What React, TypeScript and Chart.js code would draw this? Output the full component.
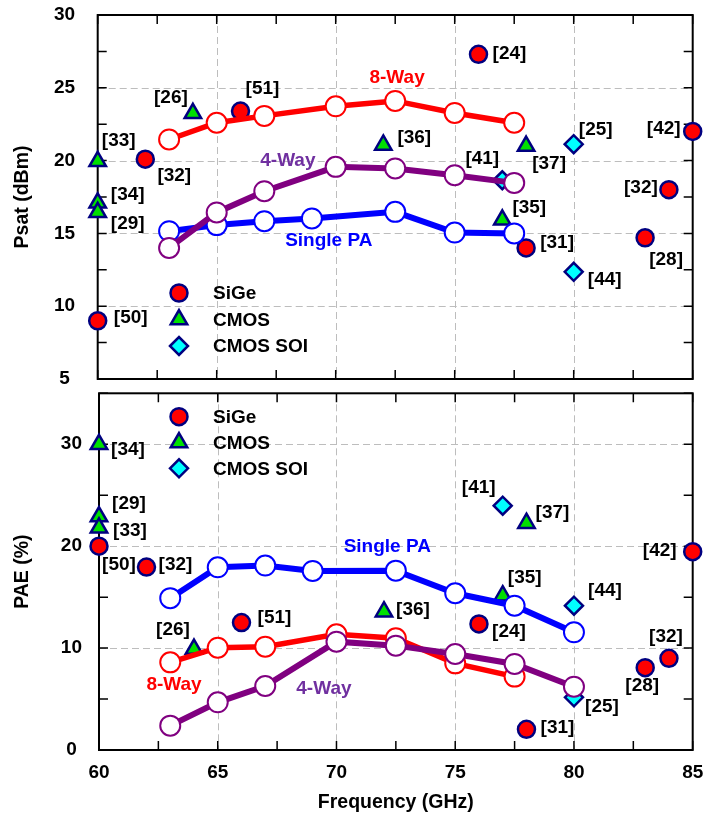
import React, { useEffect, useRef } from "react";
import { Chart, registerables } from "chart.js";

Chart.register(...registerables);

const FONT = "'Liberation Sans', Arial, Helvetica, sans-serif";
const NAVY = "#000080";
const GRID = "#BDBDBD";

// ---------- shared frequency axis ----------
const freqTicks = [60, 65, 70, 75, 80, 85];

// ---------- Psat panel ----------
const psatTicks = [5, 10, 15, 20, 25, 30];

const psatFreq8Way = [63, 65, 67, 70, 72.5, 75, 77.5];
const psat8Way = [21.45, 22.6, 23.07, 23.73, 24.1, 23.27, 22.6];

const psatFreq4Way = [63, 65, 67, 70, 72.5, 75, 77.5];
const psat4Way = [14.0, 16.44, 17.9, 19.57, 19.46, 19.0, 18.47];

const psatFreqSingle = [63, 65, 67, 69, 72.5, 75, 77.5];
const psatSingle = [15.15, 15.57, 15.84, 16.03, 16.48, 15.06, 15.0];

const psatSiGeRefs = ["[50]", "[32]", "[51]", "[24]", "[31]", "[28]", "[32]", "[42]"];
const psatSiGeFreq = [60, 62, 66, 76, 78, 83, 84, 85];
const psatSiGe = [9.0, 20.1, 23.4, 27.3, 14.0, 14.7, 18.0, 22.0];

const psatCmosRefs = ["[33]", "[34]", "[29]", "[26]", "[36]", "[35]", "[37]"];
const psatCmosFreq = [60, 60, 60, 64, 72, 77, 78];
const psatCmos = [19.95, 17.1, 16.45, 23.25, 21.08, 15.93, 21.0];

const psatSoiRefs = ["[41]", "[25]", "[44]"];
const psatSoiFreq = [77, 80, 80];
const psatSoi = [18.65, 21.13, 12.36];

// ---------- PAE panel ----------
const paeTicks = [0, 10, 20, 30];

const paeFreqSingle = [63, 65, 67, 69, 72.5, 75, 77.5, 80];
const paeSingle = [14.9, 17.93, 18.1, 17.57, 17.6, 15.38, 14.16, 11.55];

const paeFreq8Way = [63, 65, 67, 70, 72.5, 75, 77.5];
const pae8Way = [8.6, 10.04, 10.14, 11.35, 10.96, 8.5, 7.2];

const paeFreq4Way = [63, 65, 67, 70, 72.5, 75, 77.5, 80];
const pae4Way = [2.39, 4.68, 6.28, 10.63, 10.24, 9.42, 8.44, 6.21];

const paeSiGeRefs = ["[50]", "[32]", "[51]", "[24]", "[31]", "[28]", "[32]", "[42]"];
const paeSiGeFreq = [60, 62, 66, 76, 78, 83, 84, 85];
const paeSiGe = [20.0, 17.95, 12.5, 12.37, 2.03, 8.08, 9.0, 19.46];

const paeCmosRefs = ["[34]", "[29]", "[33]", "[26]", "[36]", "[35]", "[37]"];
const paeCmosFreq = [60, 60, 60, 64, 72, 77, 78];
const paeCmos = [30.0, 22.9, 21.8, 9.9, 13.57, 15.14, 22.25];

const paeSoiRefs = ["[41]", "[44]", "[25]"];
const paeSoiFreq = [77, 80, 80];
const paeSoi = [23.97, 14.16, 5.17];

// ---------- label placement (pixel offsets from each marker) ----------
const psatSiGeOffsets: [number, number][] = [[33, -3], [29, 17], [22, -22], [31, -1], [31, -5], [21, 22], [-28, -2], [-29, -3]];
const psatCmosOffsets: [number, number][] = [[21, -21], [30, -8], [30, 11], [-22, -16], [31, -7], [27, -12], [23, 18]];
const psatSoiOffsets: [number, number][] = [[-20, -21], [22, -14], [31, 8]];

const paeSiGeOffsets: [number, number][] = [[20, 19], [29, -2], [33, -5], [30, 8], [31, -2], [-3, 18], [-3, -22], [-33, -1]];
const paeCmosOffsets: [number, number][] = [[29, 6], [30, -13], [31, 3], [-21, -19], [29, -2], [22, -18], [26, -10]];
const paeSoiOffsets: [number, number][] = [[-24, -18], [31, -15], [28, 9]];

type MarkerStyle = "circle" | "triangle" | "rectRot";

interface LineSeries {
  label: string;
  color: string;
  width: number;
  freq: number[];
  values: number[];
  order: number;
}

interface PointGroup {
  label: string;
  style: MarkerStyle;
  fill: string;
  radius: number;
  freq: number[];
  values: number[];
  refs: string[];
  offsets: [number, number][];
  order: number;
}

interface Note {
  text: string;
  color: string;
  x: number;
  y: number;
}

interface PanelSpec {
  yTitle: string;
  yMin: number;
  yMax: number;
  yTicks: number[];
  yMinorStep: number;
  lines: LineSeries[];
  groups: PointGroup[];
  notes: Note[];
  legendX: number;
  legendY: number;
  legendGap: number;
  showX: boolean;
  yAxisWidth: number;
  xAxisHeight: number;
  yTickGap: number;
  padding: { top: number; right: number; bottom: number; left: number };
}

const seriesColors = {
  eight: "#FF0000",
  four: "#800080",
  fourText: "#7030A0",
  single: "#0000FF",
};

const MARKER_BORDER = 2.5;

const groupStyles = {
  sige: { style: "circle" as MarkerStyle, fill: "#FF0000", radius: 8.5 },
  cmos: { style: "triangle" as MarkerStyle, fill: "#00E000", radius: 9.5 },
  soi: { style: "rectRot" as MarkerStyle, fill: "#00FFFF", radius: 9 },
};

function markerPath(ctx: CanvasRenderingContext2D, style: MarkerStyle, x: number, y: number, r: number) {
  ctx.beginPath();
  if (style === "circle") {
    ctx.arc(x, y, r, 0, Math.PI * 2);
  } else if (style === "triangle") {
    for (let k = 0; k < 3; k++) {
      const a = (k * 2 * Math.PI) / 3;
      const px = x + Math.sin(a) * r;
      const py = y - Math.cos(a) * r;
      if (k === 0) ctx.moveTo(px, py);
      else ctx.lineTo(px, py);
    }
  } else {
    ctx.moveTo(x - r, y);
    ctx.lineTo(x, y - r);
    ctx.lineTo(x + r, y);
    ctx.lineTo(x, y + r);
  }
  ctx.closePath();
}

function framePlugin(spec: PanelSpec) {
  return {
    id: "panelFrame",
    beforeDatasetsDraw(chart: any) {
      const { ctx, chartArea: a } = chart;
      const xs = chart.scales.x;
      const ys = chart.scales.y;
      ctx.save();
      // dashed grid at interior major ticks
      ctx.strokeStyle = GRID;
      ctx.lineWidth = 1;
      ctx.setLineDash([7, 4]);
      freqTicks.forEach((v) => {
        if (v <= xs.min || v >= xs.max) return;
        const px = Math.round(xs.getPixelForValue(v)) + 0.5;
        ctx.beginPath();
        ctx.moveTo(px, a.top);
        ctx.lineTo(px, a.bottom);
        ctx.stroke();
      });
      spec.yTicks.forEach((v) => {
        if (v <= ys.min || v >= ys.max) return;
        const py = Math.round(ys.getPixelForValue(v)) + 0.5;
        ctx.beginPath();
        ctx.moveTo(a.left, py);
        ctx.lineTo(a.right, py);
        ctx.stroke();
      });
      ctx.setLineDash([]);
      // inward tick marks on all four sides
      ctx.strokeStyle = "#000";
      ctx.lineWidth = 1.5;
      const tl = 9;
      for (let v = xs.min; v <= xs.max + 1e-6; v += 2.5) {
        const px = xs.getPixelForValue(v);
        ctx.beginPath();
        ctx.moveTo(px, a.bottom);
        ctx.lineTo(px, a.bottom - tl);
        ctx.moveTo(px, a.top);
        ctx.lineTo(px, a.top + tl);
        ctx.stroke();
      }
      for (let v = ys.min; v <= ys.max + 1e-6; v += spec.yMinorStep) {
        const py = ys.getPixelForValue(v);
        ctx.beginPath();
        ctx.moveTo(a.left, py);
        ctx.lineTo(a.left + tl, py);
        ctx.moveTo(a.right, py);
        ctx.lineTo(a.right - tl, py);
        ctx.stroke();
      }
      // plot frame
      ctx.lineWidth = 2;
      ctx.strokeRect(a.left, a.top, a.right - a.left, a.bottom - a.top);
      ctx.restore();
    },
    afterDatasetsDraw(chart: any) {
      const { ctx, chartArea: a } = chart;
      const xs = chart.scales.x;
      const ys = chart.scales.y;
      ctx.save();
      ctx.font = `bold 19px ${FONT}`;
      ctx.textBaseline = "middle";
      ctx.textAlign = "center";
      ctx.fillStyle = "#000";
      // reference labels next to each published result
      spec.groups.forEach((g) => {
        g.refs.forEach((ref, i) => {
          const px = xs.getPixelForValue(g.freq[i]);
          const py = ys.getPixelForValue(g.values[i]);
          const [dx, dy] = g.offsets[i];
          ctx.fillText(ref, px + dx, py + dy);
        });
      });
      // series names
      spec.notes.forEach((n) => {
        ctx.fillStyle = n.color;
        ctx.fillText(n.text, xs.getPixelForValue(n.x), ys.getPixelForValue(n.y));
      });
      // legend for the technology groups
      ctx.textAlign = "left";
      spec.groups.forEach((g, i) => {
        const lx = a.left + spec.legendX;
        const ly = a.top + spec.legendY + i * spec.legendGap;
        markerPath(ctx, g.style, lx, ly, g.radius);
        ctx.fillStyle = g.fill;
        ctx.fill();
        ctx.lineWidth = MARKER_BORDER;
        ctx.lineJoin = "miter";
        ctx.strokeStyle = NAVY;
        ctx.stroke();
        ctx.fillStyle = "#000";
        ctx.fillText(g.label, lx + 34, ly + 1);
      });
      ctx.restore();
    },
  };
}

function buildConfig(spec: PanelSpec): any {
  const tickFont = { family: FONT, size: 19, weight: "bold" as const };
  const titleFont = { family: FONT, size: 19.5, weight: "bold" as const };

  const lineSets = spec.lines.map((l) => ({
    label: l.label,
    data: l.freq.map((f, i) => ({ x: f, y: l.values[i] })),
    showLine: true,
    borderColor: l.color,
    borderWidth: l.width,
    pointRadius: 10,
    pointHoverRadius: 10,
    pointBackgroundColor: "#FFFFFF",
    pointBorderColor: l.color,
    pointBorderWidth: 2,
    order: l.order,
    clip: false,
  }));

  const pointSets = spec.groups.map((g) => ({
    label: g.label,
    data: g.freq.map((f, i) => ({ x: f, y: g.values[i] })),
    showLine: false,
    pointStyle: g.style,
    pointRadius: g.radius,
    pointHoverRadius: g.radius,
    backgroundColor: g.fill,
    borderColor: NAVY,
    borderWidth: MARKER_BORDER,
    order: g.order,
    clip: false,
  }));

  return {
    type: "scatter",
    data: { datasets: [...lineSets, ...pointSets] },
    options: {
      responsive: false,
      animation: false,
      devicePixelRatio: 1,
      events: [],
      layout: { padding: spec.padding, autoPadding: false },
      plugins: { legend: { display: false }, tooltip: { enabled: false } },
      scales: {
        x: {
          type: "linear",
          min: 60,
          max: 85,
          // invisible tick marks give the label gap without widening the layout padding
          grid: { display: false, drawTicks: true, tickLength: 11.6 },
          border: { display: false },
          ticks: {
            display: spec.showX,
            font: tickFont,
            color: "#000",
            padding: 0,
            maxRotation: 0,
            autoSkip: false,
          },
          afterBuildTicks: (s: any) => {
            s.ticks = freqTicks.map((v) => ({ value: v }));
          },
          afterFit: (s: any) => {
            s.height = spec.xAxisHeight;
          },
          title: {
            display: spec.showX,
            text: "Frequency (GHz)",
            font: titleFont,
            color: "#000",
            padding: { top: 0, bottom: 3.3 },
          },
        },
        y: {
          type: "linear",
          min: spec.yMin,
          max: spec.yMax,
          grid: { display: false, drawTicks: true, tickLength: spec.yTickGap },
          border: { display: false },
          ticks: {
            font: tickFont,
            color: "#000",
            padding: 0,
            crossAlign: "center",
          },
          afterBuildTicks: (s: any) => {
            s.ticks = spec.yTicks.map((v) => ({ value: v }));
          },
          afterFit: (s: any) => {
            s.width = spec.yAxisWidth;
          },
          title: {
            display: true,
            text: spec.yTitle,
            font: titleFont,
            color: "#000",
            padding: { top: 11.3, bottom: 0 },
          },
        },
      },
    },
    plugins: [framePlugin(spec)],
  };
}

const psatSpec: PanelSpec = {
  yTitle: "Psat (dBm)",
  yMin: 5,
  yMax: 30,
  yTicks: psatTicks,
  yMinorStep: 2.5,
  lines: [
    { label: "Single PA", color: seriesColors.single, width: 6, freq: psatFreqSingle, values: psatSingle, order: 3 },
    { label: "8-Way", color: seriesColors.eight, width: 5.5, freq: psatFreq8Way, values: psat8Way, order: 2 },
    { label: "4-Way", color: seriesColors.four, width: 6, freq: psatFreq4Way, values: psat4Way, order: 1 },
  ],
  groups: [
    { label: "SiGe", ...groupStyles.sige, freq: psatSiGeFreq, values: psatSiGe, refs: psatSiGeRefs, offsets: psatSiGeOffsets, order: 4 },
    { label: "CMOS", ...groupStyles.cmos, freq: psatCmosFreq, values: psatCmos, refs: psatCmosRefs, offsets: psatCmosOffsets, order: 5 },
    { label: "CMOS SOI", ...groupStyles.soi, freq: psatSoiFreq, values: psatSoi, refs: psatSoiRefs, offsets: psatSoiOffsets, order: 6 },
  ],
  notes: [
    { text: "8-Way", color: seriesColors.eight, x: 72.58, y: 25.72 },
    { text: "4-Way", color: seriesColors.fourText, x: 67.99, y: 19.96 },
    { text: "Single PA", color: seriesColors.single, x: 69.71, y: 14.49 },
  ],
  legendX: 81.3,
  legendY: 278,
  legendGap: 26.5,
  showX: false,
  yAxisWidth: 97.7,
  xAxisHeight: 13,
  yTickGap: 22.6,
  padding: { top: 15, right: 13.3, bottom: 0, left: 0 },
};

const paeSpec: PanelSpec = {
  yTitle: "PAE (%)",
  yMin: 0,
  yMax: 35,
  yTicks: paeTicks,
  yMinorStep: 5,
  lines: [
    { label: "Single PA", color: seriesColors.single, width: 6, freq: paeFreqSingle, values: paeSingle, order: 3 },
    { label: "8-Way", color: seriesColors.eight, width: 5.5, freq: paeFreq8Way, values: pae8Way, order: 2 },
    { label: "4-Way", color: seriesColors.four, width: 6, freq: paeFreq4Way, values: pae4Way, order: 1 },
  ],
  groups: [
    { label: "SiGe", ...groupStyles.sige, freq: paeSiGeFreq, values: paeSiGe, refs: paeSiGeRefs, offsets: paeSiGeOffsets, order: 4 },
    { label: "CMOS", ...groupStyles.cmos, freq: paeCmosFreq, values: paeCmos, refs: paeCmosRefs, offsets: paeCmosOffsets, order: 5 },
    { label: "CMOS SOI", ...groupStyles.soi, freq: paeSoiFreq, values: paeSoi, refs: paeSoiRefs, offsets: paeSoiOffsets, order: 6 },
  ],
  notes: [
    { text: "Single PA", color: seriesColors.single, x: 72.14, y: 19.92 },
    { text: "8-Way", color: seriesColors.eight, x: 63.16, y: 6.38 },
    { text: "4-Way", color: seriesColors.fourText, x: 69.47, y: 5.99 },
  ],
  legendX: 80,
  legendY: 23.4,
  legendGap: 25.8,
  showX: true,
  yAxisWidth: 99,
  xAxisHeight: 68,
  yTickGap: 17,
  padding: { top: 15.3, right: 13.3, bottom: 0, left: 0 },
};

export default function App() {
  const topRef = useRef<HTMLCanvasElement | null>(null);
  const bottomRef = useRef<HTMLCanvasElement | null>(null);

  useEffect(() => {
    const charts: Chart[] = [];
    if (topRef.current) charts.push(new Chart(topRef.current, buildConfig(psatSpec)));
    if (bottomRef.current) charts.push(new Chart(bottomRef.current, buildConfig(paeSpec)));
    return () => charts.forEach((c) => c.destroy());
  }, []);

  return (
    <div style={{ position: "absolute", left: 0, top: 0, width: 706, height: 818, background: "#FFFFFF" }}>
      <canvas
        ref={topRef}
        width={706}
        height={392}
        style={{ position: "absolute", left: 0, top: 0, width: 706, height: 392 }}
      />
      <canvas
        ref={bottomRef}
        width={706}
        height={440}
        style={{ position: "absolute", left: 0, top: 378, width: 706, height: 440 }}
      />
    </div>
  );
}
